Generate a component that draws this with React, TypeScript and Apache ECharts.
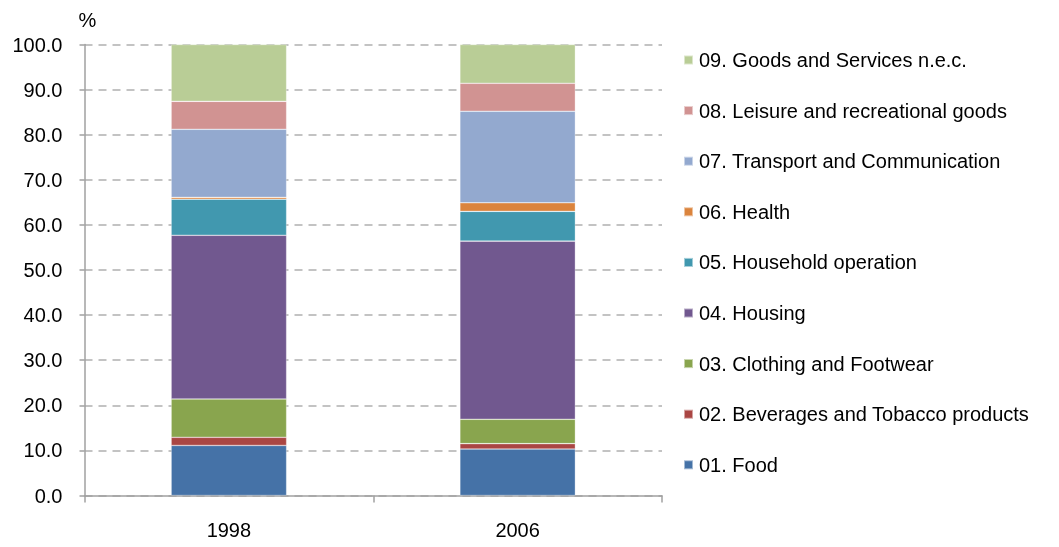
import React, { useEffect, useRef } from "react";
import * as echarts from "echarts";

const years = ["1998", "2006"];
const seriesNames = [
  "01. Food",
  "02. Beverages and Tobacco products",
  "03. Clothing and Footwear",
  "04. Housing",
  "05. Household operation",
  "06. Health",
  "07. Transport and Communication",
  "08. Leisure and recreational goods",
  "09. Goods and Services n.e.c.",
];
const food = [11.1, 10.3];
const beverages = [1.8, 1.2];
const clothing = [8.5, 5.4];
const housing = [36.3, 39.5];
const household = [8.0, 6.6];
const health = [0.4, 1.9];
const transport = [15.1, 20.3];
const leisure = [6.2, 6.2];
const goods = [12.6, 8.6];
const seriesValues = [food, beverages, clothing, housing, household, health, transport, leisure, goods];
const colors = ["#4572a7", "#aa4643", "#89a54e", "#71588f", "#4198af", "#db843d", "#93a9cf", "#d19392", "#b9cd96"];
const yTicks = [0, 10, 20, 30, 40, 50, 60, 70, 80, 90, 100];

export default function App() {
  const ref = useRef<HTMLDivElement>(null);
  useEffect(() => {
    if (!ref.current) return;
    const chart = echarts.init(ref.current, null, { renderer: "svg" });
    const font = "'Liberation Sans', Arial, sans-serif";
    chart.setOption({
      animation: false,
      textStyle: { fontFamily: font },
      grid: { left: 84.5, top: 44.5, right: 397, bottom: 51.5, containLabel: false },
      legend: {
        orient: "vertical",
        left: 683,
        top: 48,
        padding: 0,
        itemWidth: 9,
        itemHeight: 9,
        itemGap: 26.6,
        icon: "rect",
        data: [...seriesNames].reverse(),
        textStyle: { fontSize: 20, color: "#000", fontFamily: font, lineHeight: 24, padding: [0, 0, 0, 1] },
      },
      xAxis: {
        type: "category",
        data: years,
        axisLine: { lineStyle: { color: "#a0a0a0", width: 1.5 } },
        axisTick: { show: true, alignWithLabel: false, length: 7, lineStyle: { color: "#a0a0a0", width: 1.5 } },
        axisLabel: { fontSize: 20, color: "#000", margin: 24, fontFamily: font },
      },
      yAxis: {
        type: "value",
        min: yTicks[0],
        max: yTicks[yTicks.length - 1],
        interval: 10,
        name: "%",
        nameLocation: "end",
        nameGap: 15,
        nameTextStyle: { fontSize: 20, color: "#000", fontFamily: font, align: "left", padding: [0, 0, 0, -6] },
        axisLine: { show: true, lineStyle: { color: "#a0a0a0", width: 1.5 } },
        axisTick: { show: true, length: 5, lineStyle: { color: "#a0a0a0", width: 1.5 } },
        axisLabel: {
          fontSize: 20,
          color: "#000",
          margin: 22,
          fontFamily: font,
          formatter: (v: number) => v.toFixed(1),
        },
        splitLine: { show: true, lineStyle: { color: "#b0b0b0", width: 1.5, type: [8, 6] } },
      },
      series: seriesNames.map((name, i) => ({
        name,
        type: "bar",
        stack: "total",
        barWidth: "40%",
        data: seriesValues[i],
        itemStyle: { color: colors[i], borderColor: "rgba(255,255,255,0.5)", borderWidth: 0.6 },
      })),
    });
    return () => chart.dispose();
  }, []);
  return <div ref={ref} style={{ position: "fixed", left: 0, top: 0, width: 1059, height: 547 }} />;
}
